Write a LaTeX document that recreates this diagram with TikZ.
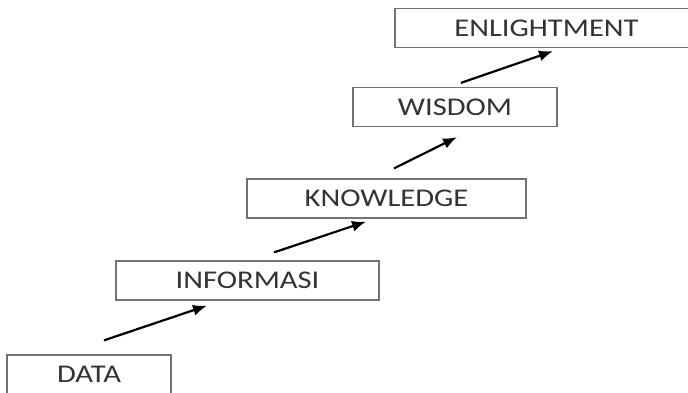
\documentclass[tikz,border=0pt]{standalone}
\usepackage{fontspec}
\setmainfont[FakeStretch=1.2]{Carlito}
\usetikzlibrary{arrows.meta}

\begin{document}
\begin{tikzpicture}[x=1pt, y=-1pt,
level/.style={rectangle,draw=black!55,line width=1.3pt,inner sep=0pt,minimum height=39pt,text=black!80,font=\fontsize{25.5}{30}\selectfont},
paths/.style={line width=2.2pt, -{Latex[length=14pt,width=11pt]}}
]
\useasboundingbox (0,0) rectangle (688,392);
\clip (0,0) rectangle (688,392);

%create nodes
\node[level, minimum width=164pt] (data) at (89,374.5) {DATA};
\node[level, minimum width=263pt] (info) at (247.5,280.5) {INFORMASI};
\node[level, minimum width=279pt] (know) at (386.5,198.5) {KNOWLEDGE};
\node[level, minimum width=204pt] (wis) at (455,107) {WISDOM};
\node[level, minimum width=303pt] (enl) at (546.5,28) {ENLIGHTMENT};

%draw paths
\draw[paths] ([xshift=15pt,yshift=14pt]data.north) -- ([xshift=-40.5pt,yshift=-5pt]info.south);
\draw[paths] ([xshift=26.5pt,yshift=8pt]info.north) -- ([xshift=-20.5pt,yshift=-3pt]know.south);
\draw[paths] ([xshift=7.5pt,yshift=10pt]know.north) -- ([xshift=2pt,yshift=-10pt]wis.south);
\draw[paths] ([xshift=6pt,yshift=4pt]wis.north) -- ([xshift=6.5pt,yshift=-3pt]enl.south);

\end{tikzpicture}
\end{document}
